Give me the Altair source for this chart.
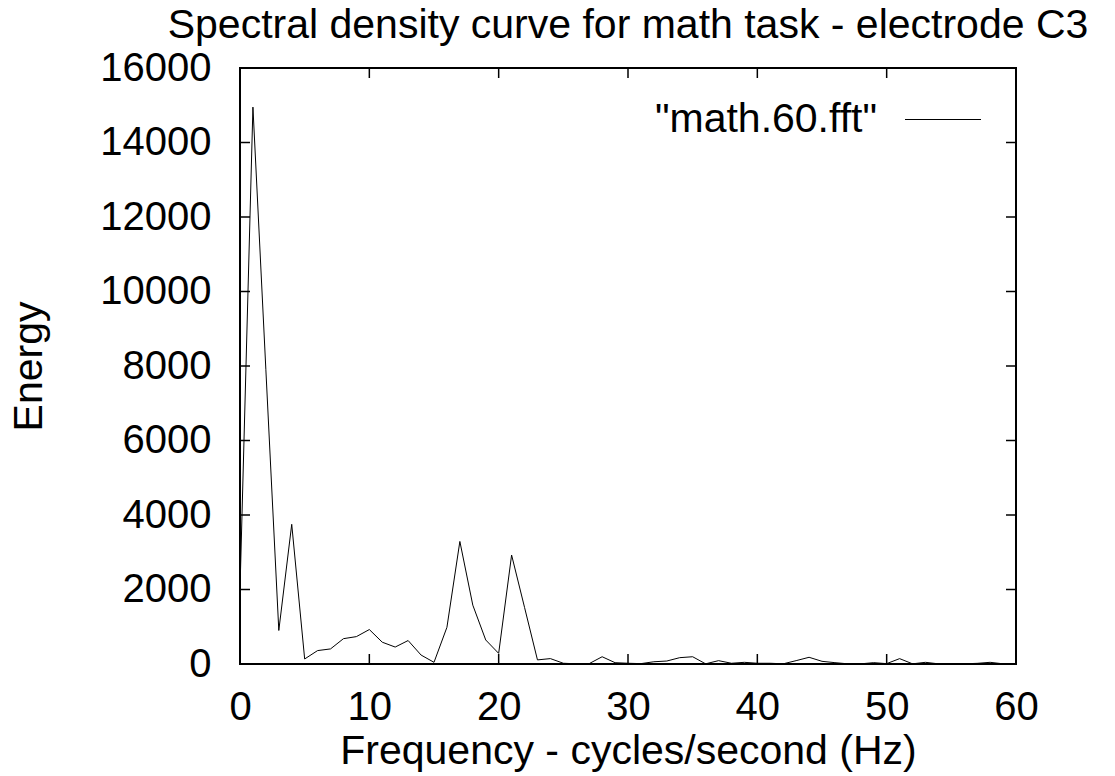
import altair as alt
import pandas as pd

# ---- data ----
freq = list(range(0, 61))
energy = [
    2000, 14950, 7900, 900, 3750, 135, 360, 405, 680, 735,
    925, 585, 455, 630, 240, 45, 985, 3290, 1580, 645,
    285, 2925, 1520, 110, 145, 20, 5, 10, 195, 35,
    20, 10, 60, 80, 170, 195, 5, 90, 20, 45,
    20, 20, 5, 90, 180, 72, 36, 5, 5, 36,
    10, 144, 5, 45, 5, 5, 5, 18, 45, 5,
    5,
]
series_name = '"math.60.fft"'
x_ticks = [0, 10, 20, 30, 40, 50, 60]
y_ticks = [0, 2000, 4000, 6000, 8000, 10000, 12000, 14000, 16000]
title_text = "Spectral density curve for math task - electrode C3"
x_title = "Frequency - cycles/second (Hz)"
y_title = "Energy"

FONT = "Liberation Sans"
FS = 40
FS_T = 41
W, H = 776, 596
TICK = 10

df = pd.DataFrame({"freq": freq, "energy": energy})
xt = pd.DataFrame({"t": x_ticks})
yt = pd.DataFrame({"t": y_ticks})

xscale = alt.Scale(domain=[0, 60], nice=False, zero=False)
yscale = alt.Scale(domain=[0, 16000], nice=False)

x_axis = alt.Axis(
    values=x_ticks, ticks=False, domain=False, grid=False, format="d",
    labelFont=FONT, labelFontSize=FS, labelColor="black", labelPadding=23,
    labelFlush=False,
    title=x_title, titleFont=FONT, titleFontSize=FS_T, titleFontWeight="normal",
    titleColor="black", titleBaseline="alphabetic", titleY=99, titleX=W / 2,
)
y_axis = alt.Axis(
    values=y_ticks, ticks=False, domain=False, grid=False, format="d",
    labelFont=FONT, labelFontSize=FS, labelColor="black", labelPadding=29,
    labelFlush=False,
    title=y_title, titleFont=FONT, titleFontSize=FS_T, titleFontWeight="normal",
    titleColor="black", titleBaseline="alphabetic", titleX=-199, titleY=H / 2,
    titleAngle=270,
)

line = alt.Chart(df).mark_line(color="black", strokeWidth=1).encode(
    x=alt.X("freq:Q", scale=xscale, axis=x_axis),
    y=alt.Y("energy:Q", scale=yscale, axis=y_axis),
)

# inward tick marks on all four sides (gnuplot style)
xt_bottom = alt.Chart(xt).mark_rule(color="black", strokeWidth=1.5).encode(
    x=alt.X("t:Q", scale=xscale), y=alt.value(H), y2=alt.value(H - TICK)
)
xt_top = alt.Chart(xt).mark_rule(color="black", strokeWidth=1.5).encode(
    x=alt.X("t:Q", scale=xscale), y=alt.value(0), y2=alt.value(TICK)
)
yt_left = alt.Chart(yt).mark_rule(color="black", strokeWidth=1.5).encode(
    y=alt.Y("t:Q", scale=yscale), x=alt.value(0), x2=alt.value(TICK)
)
yt_right = alt.Chart(yt).mark_rule(color="black", strokeWidth=1.5).encode(
    y=alt.Y("t:Q", scale=yscale), x=alt.value(W), x2=alt.value(W - TICK)
)

# key (top right, label left of the line sample)
key_df = pd.DataFrame({"s": [series_name]})
key_text = alt.Chart(key_df).mark_text(
    font=FONT, fontSize=FS_T, align="right", baseline="alphabetic", color="black"
).encode(text="s:N", x=alt.value(637), y=alt.value(64))
key_line = alt.Chart(key_df).mark_rule(color="black", strokeWidth=1).encode(
    x=alt.value(665), x2=alt.value(741), y=alt.value(51.5)
)

chart = alt.layer(
    line, xt_bottom, xt_top, yt_left, yt_right, key_text, key_line
).properties(
    width=W, height=H,
    title=alt.TitleParams(
        text=title_text, font=FONT, fontSize=FS_T, fontWeight="normal",
        color="black", anchor="middle", frame="group", baseline="alphabetic",
        offset=3, dy=34,
    ),
    autosize=alt.AutoSizeParams(type="none"),
    padding={"left": 240, "top": 68, "right": 99, "bottom": 112},
).configure(
    background="white"
).configure_view(
    stroke="black", strokeWidth=2
)

chart.save("out.html", embed_options={"renderer": "svg", "actions": False})
